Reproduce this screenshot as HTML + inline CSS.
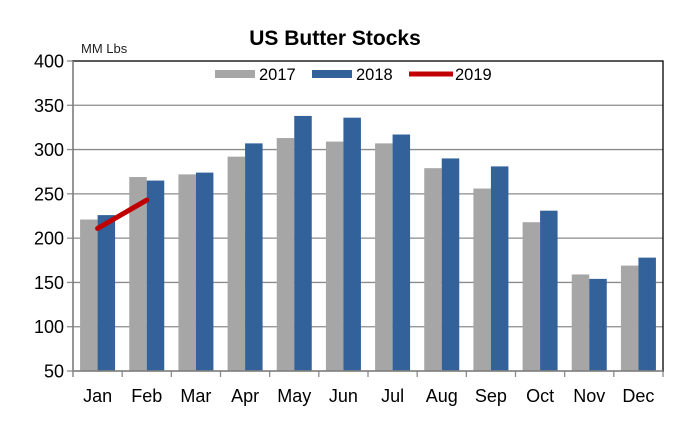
<!DOCTYPE html>
<html><head><meta charset="utf-8"><style>
body{margin:0;background:#fff;}
svg{display:block;font-family:"Liberation Sans",Arial,sans-serif;}
</style></head><body>
<svg id="chart" width="682" height="430">
<text x="335" y="45" text-anchor="middle" font-size="21" font-weight="bold">US Butter Stocks</text>
<text x="81" y="53" font-size="13" fill="#222">MM Lbs</text>
<g id="grid"></g><g id="bars"></g><g id="line"></g><g id="axes"></g>
<g>
<rect x="215" y="70" width="40" height="8" fill="#a6a6a6"/>
<text x="259" y="80" font-size="16.5">2017</text>
<rect x="312" y="70" width="40" height="8" fill="#336199"/>
<text x="356" y="80" font-size="16.5">2018</text>
<line x1="409" y1="74" x2="453" y2="74" stroke="#c00000" stroke-width="5"/>
<text x="455" y="80" font-size="16.5">2019</text>
</g>
</svg>
<script>
const months=["Jan","Feb","Mar","Apr","May","Jun","Jul","Aug","Sep","Oct","Nov","Dec"];
const s2017=[221,269,272,292,313,309,307,279,256,218,159,169];
const s2018=[226,265,274,307,338,336,317,290,281,231,154,178];
const s2019=[211,243];
const yTicks=[50,100,150,200,250,300,350,400];
const L=73,R=663,T=61,B=371,yMin=50,yMax=400;
const ns="http://www.w3.org/2000/svg";
const y=v=>B-(v-yMin)/(yMax-yMin)*(B-T);
const cw=(R-L)/months.length;
const xc=i=>L+cw*(i+0.5);
function mk(tag,attrs,parent){const e=document.createElementNS(ns,tag);for(const k in attrs)e.setAttribute(k,attrs[k]);document.getElementById(parent).appendChild(e);return e;}
yTicks.forEach(t=>{
 if(t>yMin&&t<yMax){const g=mk('line',{x1:L,x2:R,y1:y(t),y2:y(t),stroke:'#8c8c8c','stroke-width':1.3},'grid');
 
 }
 const tk=mk('line',{x1:L-6,x2:L,y1:y(t),y2:y(t),stroke:'#8c8c8c','stroke-width':1.3},'axes');
 
 
 const tx=mk('text',{x:L-9,y:y(t)+6.5,'text-anchor':'end','font-size':18},'axes');tx.textContent=t;
 
 
});
const bw=17.5;
months.forEach((m,i)=>{
 const a=mk('rect',{x:xc(i)-bw,y:y(s2017[i]),width:bw,height:B-y(s2017[i]),fill:'#a6a6a6'},'bars');
 
 
 const b=mk('rect',{x:xc(i),y:y(s2018[i]),width:bw,height:B-y(s2018[i]),fill:'#336199'},'bars');
 
 
 const tx=mk('text',{x:xc(i),y:402,'text-anchor':'middle','font-size':18},'axes');tx.textContent=m;
 
 
 const tk=mk('line',{x1:L+cw*(i+1),x2:L+cw*(i+1),y1:B,y2:B+6,stroke:'#8c8c8c','stroke-width':1.3},'axes');
 
 
});
const pl=mk('polyline',{points:s2019.map((v,i)=>xc(i)+','+y(v)).join(' '),fill:'none',stroke:'#c00000','stroke-width':5,'stroke-linecap':'round'},'line');


const fr=mk('rect',{x:L,y:T,width:R-L,height:B-T,fill:'none',stroke:'#000','stroke-width':1.3},'axes');


const ax=mk('line',{x1:L,x2:R,y1:B,y2:B,stroke:'#8c8c8c','stroke-width':1.5},'axes');


const ay=mk('line',{x1:L,x2:L,y1:T,y2:B+6,stroke:'#8c8c8c','stroke-width':1.5},'axes');


</script>
</body></html>
